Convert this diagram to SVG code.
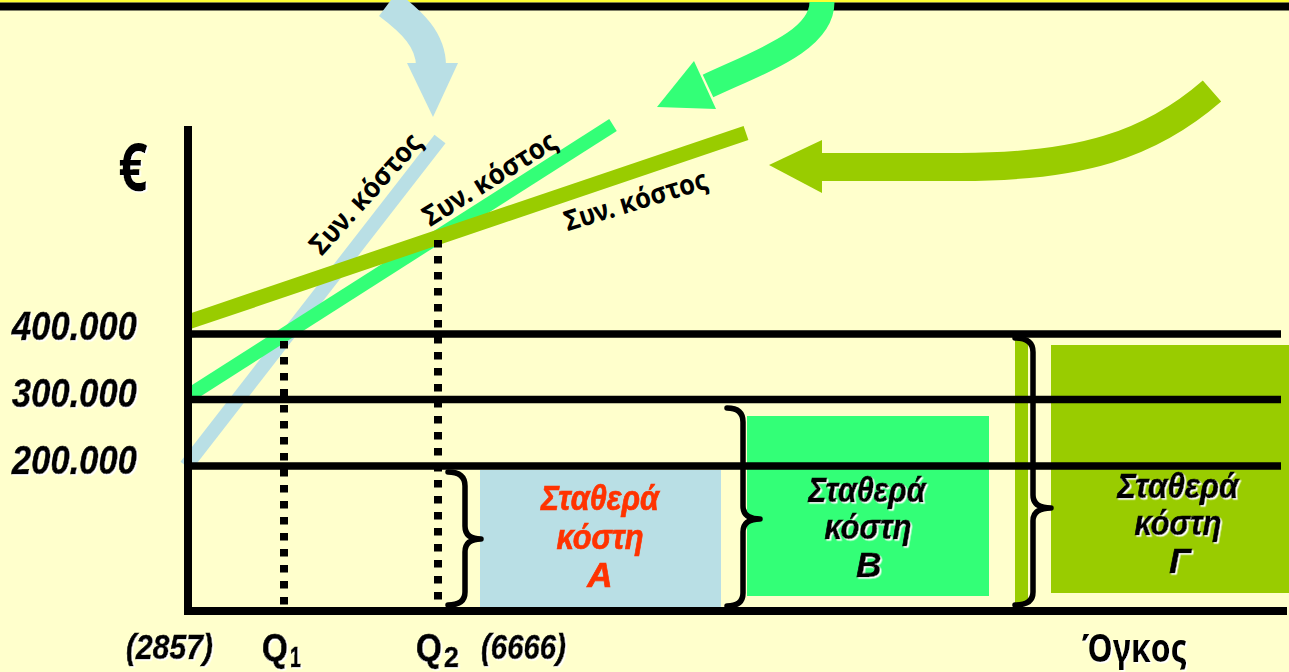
<svg xmlns="http://www.w3.org/2000/svg" width="1289" height="672" viewBox="0 0 1289 672">
<defs>
<style>
.grid{stroke:#000;stroke-width:7.5;fill:none}
.ax{stroke:#000;stroke-width:8;fill:none;stroke-linecap:square}
.dot{stroke:#000;stroke-width:8;stroke-dasharray:7.5 8.5;fill:none}
.brace{stroke:#000;stroke-width:5.5;fill:none;stroke-linecap:round;stroke-linejoin:round}
.num{font-family:"Liberation Sans",Arial,sans-serif;font-weight:700;font-style:italic;fill:#000;stroke:#000;stroke-width:0.6}
.q{font-family:"Liberation Sans",Arial,sans-serif;font-weight:700;fill:#000;stroke:#000;stroke-width:0.6}
.lbl{font-family:"Noto Sans","DejaVu Sans",sans-serif;font-weight:700;font-size:28px;fill:#000;text-anchor:middle}
.box{font-family:"Liberation Sans",Arial,sans-serif;font-weight:700;font-style:italic;font-size:35px;text-anchor:middle;stroke-width:0.7}
.cl{fill:none;stroke-linecap:butt}
</style>
<filter id="ws" x="-10%" y="-10%" width="130%" height="130%">
<feDropShadow dx="1.5" dy="1.5" stdDeviation="0.4" flood-color="#ffffff" flood-opacity="1"/>
</filter>
</defs>

<rect x="0" y="0" width="1289" height="672" fill="#FFFFCC"/>
<rect x="0" y="0" width="1289" height="2.5" fill="#FFFF33"/>
<rect x="0" y="2.5" width="1289" height="8" fill="#000"/>

<g id="box-A">
<rect x="480" y="470" width="241" height="137" fill="#B9DFE5"/>
</g>
<g id="box-B">
<rect x="747" y="416" width="242" height="180" fill="#33FF77"/>
</g>
<g id="box-G">
<rect x="1015" y="338" width="13" height="266" fill="#99CC00"/>
<rect x="1051" y="345" width="238" height="248" fill="#99CC00"/>
</g>

<g id="cost-lines">
<line class="cl" x1="186" y1="466" x2="440" y2="139" stroke="#B9DFE5" stroke-width="14"/>
<line class="cl" x1="188" y1="396" x2="613" y2="125" stroke="#33FF77" stroke-width="14"/>
<line class="cl" x1="188" y1="322" x2="746" y2="133" stroke="#99CC00" stroke-width="15"/>
</g>

<g id="connectors">
<path class="cl" d="M388 4 C412 22 431 40 431 66" stroke="#B9DFE5" stroke-width="30"/>
<polygon points="407,63 458,63 433,117" fill="#B9DFE5"/>
<path class="cl" d="M822 2 C822 40 764 60 708 86" stroke="#33FF77" stroke-width="25"/>
<polygon points="694,61 716,109 657,107" fill="#33FF77"/>
<path class="cl" d="M820 167 L960 167 C1080 167 1150 145 1212 91" stroke="#99CC00" stroke-width="28"/>
<polygon points="822,140 822,193 769,165" fill="#99CC00"/>
</g>

<g id="axes">
<line class="grid" x1="188" y1="334" x2="1281" y2="334"/>
<line class="grid" x1="188" y1="399.5" x2="1281" y2="399.5"/>
<line class="grid" x1="188" y1="466" x2="1281" y2="466"/>
<polyline class="ax" points="188,130 188,611 1283,611"/>
<line class="dot" x1="284" y1="341" x2="284" y2="607"/>
<line class="dot" x1="438" y1="240" x2="438" y2="607"/>
</g>

<g id="braces">
<path class="brace" d="M448,472 Q465,472 465,486 L465,526 Q465,539 481,539 Q465,539 465,552 L465,592 Q465,605 448,605"/>
<path class="brace" d="M727,408 Q743,408 743,422 L743,506 Q743,519 760,519 Q743,519 743,532 L743,593 Q743,606 727,606"/>
<path class="brace" d="M1015,338 Q1033,338 1033,352 L1033,495 Q1033,508 1051,508 Q1033,508 1033,521 L1033,592 Q1033,605 1015,605"/>
</g>

<g id="labels-cost">
<text class="lbl" transform="translate(366,194) rotate(-48)" y="9" textLength="152" lengthAdjust="spacingAndGlyphs">Συν. κόστος</text>
<text class="lbl" transform="translate(490,179) rotate(-32)" y="9" textLength="152" lengthAdjust="spacingAndGlyphs">Συν. κόστος</text>
<text class="lbl" transform="translate(636,201) rotate(-17)" y="9" textLength="148" lengthAdjust="spacingAndGlyphs">Συν. κόστος</text>
</g>

<g id="axis-labels" filter="url(#ws)">
<text transform="translate(133,191) scale(0.78,1)" font-family="Noto Sans, DejaVu Sans, sans-serif" font-weight="700" font-size="66" text-anchor="middle">€</text>
<text class="num" x="12" y="340" font-size="41" textLength="125" lengthAdjust="spacingAndGlyphs">400.000</text>
<text class="num" x="12" y="407" font-size="41" textLength="125" lengthAdjust="spacingAndGlyphs">300.000</text>
<text class="num" x="12" y="474" font-size="41" textLength="125" lengthAdjust="spacingAndGlyphs">200.000</text>
<text class="num" x="126" y="659" font-size="35" textLength="87" lengthAdjust="spacingAndGlyphs">(2857)</text>
<text class="q" x="262" y="661" font-size="38" textLength="26" lengthAdjust="spacingAndGlyphs">Q</text>
<text class="q" x="290" y="667" font-size="29" textLength="11" lengthAdjust="spacingAndGlyphs">1</text>
<text class="q" x="416" y="661" font-size="38" textLength="26" lengthAdjust="spacingAndGlyphs">Q</text>
<text class="q" x="444" y="667" font-size="29" textLength="15" lengthAdjust="spacingAndGlyphs">2</text>
<text class="num" x="481" y="659" font-size="35" textLength="85" lengthAdjust="spacingAndGlyphs">(6666)</text>
<text x="1082" y="662" font-family="Noto Sans, DejaVu Sans, sans-serif" font-weight="700" font-size="40" textLength="105" lengthAdjust="spacingAndGlyphs">Όγκος</text>
</g>

<g id="text-A" fill="#FF3300" stroke="#FF3300">
<text class="box" x="600" y="510" textLength="118" lengthAdjust="spacingAndGlyphs">Σταθερά</text>
<text class="box" x="600" y="549" textLength="87" lengthAdjust="spacingAndGlyphs">κόστη</text>
<text class="box" x="600" y="587">Α</text>
</g>
<g id="text-B" fill="#000" stroke="#000" filter="url(#ws)">
<text class="box" x="867" y="502" textLength="117" lengthAdjust="spacingAndGlyphs">Σταθερά</text>
<text class="box" x="868" y="539" textLength="87" lengthAdjust="spacingAndGlyphs">κόστη</text>
<text class="box" x="869" y="577">Β</text>
</g>
<g id="text-G" fill="#000" stroke="#000" filter="url(#ws)">
<text class="box" x="1178" y="498" textLength="121" lengthAdjust="spacingAndGlyphs">Σταθερά</text>
<text class="box" x="1178" y="535" textLength="87" lengthAdjust="spacingAndGlyphs">κόστη</text>
<text class="box" x="1180" y="573">Γ</text>
</g>
</svg>
